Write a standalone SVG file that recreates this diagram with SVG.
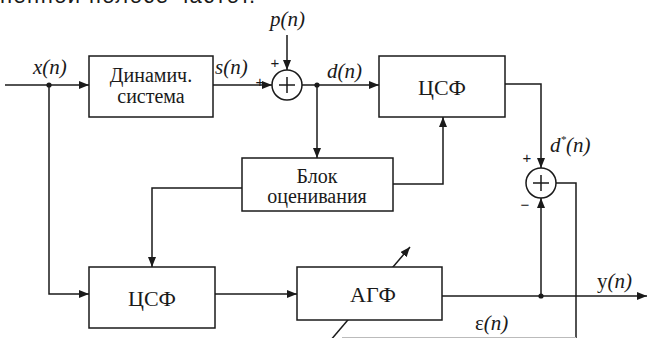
<svg xmlns="http://www.w3.org/2000/svg" width="647" height="338" viewBox="0 0 647 338">
<defs>
<marker id="ah" viewBox="0 0 10 8" refX="10" refY="4" markerWidth="10" markerHeight="8" markerUnits="userSpaceOnUse" orient="auto">
<path d="M0,0 L10,4 L0,8 Z" fill="#1a1a1a"/>
</marker>
</defs>
<style>
.ln{fill:none;stroke:#1a1a1a;stroke-width:1.5}
.box{fill:#fff;stroke:#1a1a1a;stroke-width:1.5}
.t{font-family:'Liberation Serif','DejaVu Serif',serif;font-size:20px;fill:#1a1a1a;text-anchor:middle}
.big{font-size:22px}
.lb{font-family:'Liberation Serif','DejaVu Serif',serif;font-size:21px;fill:#1a1a1a;font-style:italic}
.pm{font-family:'Liberation Sans',sans-serif;font-size:15px;fill:#1a1a1a;text-anchor:middle}
.dot{fill:#1a1a1a}
</style>
<rect width="647" height="338" fill="#fff"/>
<text x="0" y="3" font-family="Liberation Sans, sans-serif" font-size="22" fill="#1a1a1a" textLength="255">ненной полосе частот.</text>

<g id="connectors">
<path class="ln" d="M5,85 H89" marker-end="url(#ah)"/>
<path class="ln" d="M213,85 H272" marker-end="url(#ah)"/>
<path class="ln" d="M287,35 V70" marker-end="url(#ah)"/>
<path class="ln" d="M302,85 H379" marker-end="url(#ah)"/>
<path class="ln" d="M317,85 V158" marker-end="url(#ah)"/>
<path class="ln" d="M49,85 V294 H89" marker-end="url(#ah)"/>
<path class="ln" d="M242,188 H152 V267" marker-end="url(#ah)"/>
<path class="ln" d="M393,184 H443 V117" marker-end="url(#ah)"/>
<path class="ln" d="M505,84 H541 V168" marker-end="url(#ah)"/>
<path class="ln" d="M215,294 H297" marker-end="url(#ah)"/>
<path class="ln" d="M442,296 H647" marker-end="url(#ah)"/>
<path class="ln" d="M541,296 V198" marker-end="url(#ah)"/>
<path class="ln" d="M556,183 H576 V338"/>
<path class="ln" d="M330,341 L410,247" marker-end="url(#ah)"/>
<path d="M342,337.5 H576" fill="none" stroke="#bbb" stroke-width="1"/>
<circle class="dot" cx="49" cy="85" r="2.6"/>
<circle class="dot" cx="317" cy="85" r="2.6"/>
<circle class="dot" cx="541" cy="296" r="2.6"/>
</g>

<g id="dyn">
<rect class="box" x="89" y="56" width="124" height="61"/>
<text class="t" x="151" y="82">Динамич.</text>
<text class="t" x="151" y="103">система</text>
</g>

<g id="sum1">
<circle class="box" cx="287" cy="85" r="15"/>
<path class="ln" d="M279,85 H295 M287,77 V93"/>
</g>

<g id="csf1">
<rect class="box" x="379" y="56" width="126" height="61"/>
<text class="t big" x="442" y="95">ЦСФ</text>
</g>

<g id="block">
<rect class="box" x="242" y="158" width="151" height="53"/>
<text class="t" x="317" y="183">Блок</text>
<text class="t" x="317" y="203">оценивания</text>
</g>

<g id="sum2">
<circle class="box" cx="541" cy="183" r="15"/>
<path class="ln" d="M533,183 H549 M541,175 V191"/>
</g>

<g id="csf2">
<rect class="box" x="89" y="267" width="126" height="61"/>
<text class="t big" x="152" y="306">ЦСФ</text>
</g>

<g id="agf">
<rect class="box" x="297" y="267" width="145" height="53"/>
<text class="t big" x="373" y="302">АГФ</text>
</g>

<g id="labels">
<text class="lb" x="33" y="74">x(n)</text>
<text class="lb" x="215" y="74">s(n)</text>
<text class="lb" x="270" y="26">p(n)</text>
<text class="lb" x="327" y="78">d(n)</text>
<text class="lb" x="550" y="152">d<tspan font-size="11" dy="-9">*</tspan><tspan dy="9">(n)</tspan></text>
<text class="lb" x="597" y="288"><tspan font-style="normal">y</tspan>(n)</text>
<text class="lb" x="475" y="330"><tspan font-style="normal">ε</tspan>(n)</text>
<text class="pm" x="260" y="87">+</text>
<text class="pm" x="275" y="68">+</text>
<text class="pm" x="527" y="163">+</text>
<text class="pm" x="525" y="210">−</text>
</g>
</svg>
